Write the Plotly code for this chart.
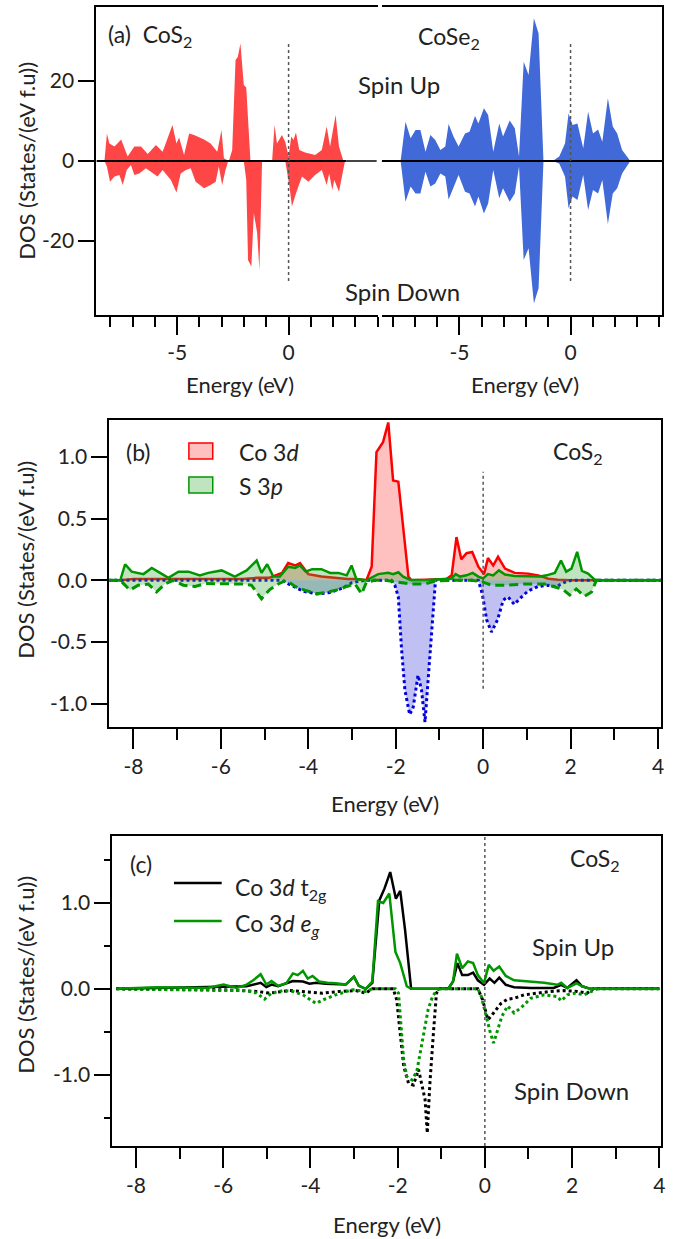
import plotly.graph_objects as go

# ---------------- Panel (a): total DOS ----------------
cos2_up_E = [-8.26, -8.15, -8.04, -7.81, -7.51, -7.22, -6.92, -6.62, -6.32, -5.95, -5.65, -5.21, -5.03, -4.91,
             -4.69, -4.46, -4.24, -4.02, -3.79, -3.50, -3.20, -3.01, -2.90, -2.68, -2.53, -2.38, -2.28, -2.16,
             -2.01, -1.90, -1.71, -0.74, -0.63, -0.52, -0.30, -0.15, 0.0, 0.12, 0.22, 0.33, 0.48, 0.74, 1.19,
             1.49, 1.71, 1.86, 2.11, 2.26, 2.46]
cos2_up = [0, 6.9, 4.4, 3.6, 5.4, 1.1, 3.6, 3.6, 1.75, 4.0, 2.3, 9.0, 4.4, 5.9, 1.5, 6.9, 6.5, 5.9, 5.4, 4.4,
           2.3, 7.75, 0.7, 0, 2.75, 25.25, 26, 29.4, 19, 18.4, 0, 0, 9, 4.4, 6.5, 4.8, 1.1, 6.1, 5.25, 7.1,
           2.75, 2.1, 1.5, 2.75, 8.6, 3.6, 11.5, 3.6, 0]
cos2_dn_E = [-8.26, -8.15, -8.01, -7.81, -7.59, -7.44, -7.26, -7.07, -6.92, -6.70, -6.40, -5.88, -5.65, -5.28,
             -5.03, -4.84, -4.61, -4.39, -4.17, -3.79, -3.50, -3.27, -3.13, -2.98, -2.83, -2.71, -2.01, -1.90,
             -1.82, -1.67, -1.56, -1.41, -1.31, -1.19, -0.15, 0.04, 0.15, 0.33, 0.60, 0.89, 1.19, 1.49, 1.71,
             1.82, 1.96, 2.05, 2.26, 2.41, 2.53]
cos2_dn = [0, -1.4, -5.2, -3.9, -3.5, -6, -2.25, -1, -3.5, -3.1, -1.8, -3.9, -2.25, -4.75, -7.9, -3.1, -2.25,
           -1.8, -5.2, -6.8, -6, -5.2, -1.4, -6, -2.25, 0, 0, -4.75, -24.75, -26.4, -13, -18, -27.25, 0, 0,
           -6.4, -11.4, -8.1, -3.9, -5.2, -3.5, -2.25, -6, -3.1, -7.25, -4.75, -7.7, -3.9, 0]

cose2_E = [-7.65, -7.43, -7.20, -6.98, -6.76, -6.53, -6.31, -6.09, -5.86, -5.64, -5.49, -5.27, -5.04, -4.75,
           -4.55, -4.30, -4.15, -3.90, -3.71, -3.48, -3.21, -3.04, -2.74, -2.51, -2.32, -2.11, -1.89, -1.65,
           -1.44, -1.22, -0.80, -0.51, -0.25, -0.09, 0.09, 0.31, 0.57, 0.79, 1.01, 1.24, 1.43, 1.68, 1.90,
           2.10, 2.32, 2.69]
cose2_up = [0, 9.8, 5.7, 7.75, 7.75, 2.3, 6.5, 5.25, 2.75, 3.6, 9.25, 6.1, 3.6, 6.9, 7.3, 11.25, 9.4, 13.2,
            11.5, 2.3, 9.4, 6.1, 10.1, 8.2, 1.1, 24.8, 21.5, 35.7, 31.9, 0, 0, 1.1, 4.4, 11.9, 9, 9.4, 3.2,
            12.3, 6.9, 7.9, 4.8, 15.7, 8.6, 6.9, 2.75, 0]
cose2_dn = [0, -10.2, -6.4, -8.1, -8.1, -2.7, -6.4, -5.6, -3.1, -3.9, -9.6, -6.4, -3.5, -7.7, -8.1, -11.4,
            -8.9, -13.1, -10.6, -2.25, -9.3, -6.8, -10.2, -8.1, -1.4, -24.75, -21.8, -35.6, -31.8, 0, 0, -0.6,
            -3.9, -11.8, -8.9, -9.75, -3.5, -12.25, -7.25, -8.1, -4.75, -15.75, -8.1, -6.8, -3.1, 0]

# ---------------- Panel (b): Co 3d / S 3p PDOS ----------------
co3d_up_E = [-8.57, -8.30, -8.0, -7.5, -7.0, -6.5, -6.0, -5.5, -5.18, -4.9, -4.6, -4.46, -4.30, -4.19, -4.0,
             -3.7, -3.4, -3.1, -2.9, -2.67, -2.55, -2.44, -2.29, -2.17, -2.06, -1.94, -1.71, -1.64, -0.84,
             -0.72, -0.61, -0.50, -0.38, -0.25, -0.11, 0.02, 0.11, 0.23, 0.34, 0.50, 0.72, 1.03, 1.26, 1.49,
             1.71, 2.0, 4.1]
co3d_up = [0, 0, 0.01, 0.01, 0.01, 0.01, 0.01, 0.01, 0.02, 0.02, 0.06, 0.14, 0.12, 0.14, 0.05, 0.03, 0.02,
           0.01, 0.01, 0, 0.11, 1.04, 1.12, 1.28, 0.81, 0.80, 0.03, 0, 0.01, 0.04, 0.35, 0.17, 0.22, 0.23,
           0.11, 0.05, 0.18, 0.12, 0.19, 0.095, 0.06, 0.054, 0.04, 0.013, 0.005, 0, 0]
co3d_dn_E = [-8.57, -4.6, -4.4, -4.1, -3.8, -3.5, -3.2, -3.0, -2.7, -2.10, -2.02, -1.94, -1.87, -1.79, -1.68,
             -1.60, -1.49, -1.41, -1.33, -1.26, -1.18, -1.09, -0.11, -0.02, 0.08, 0.19, 0.33, 0.46, 0.57,
             0.71, 0.88, 1.03, 1.26, 1.49, 1.68, 1.79, 1.90, 2.02, 4.1]
co3d_dn = [0, 0, -0.04, -0.09, -0.11, -0.10, -0.06, -0.02, 0, 0, -0.04, -0.135, -0.54, -0.89, -1.09, -1.03,
           -0.77, -0.89, -1.15, -0.81, -0.43, 0, 0, -0.11, -0.32, -0.42, -0.32, -0.16, -0.135, -0.195, -0.135,
           -0.086, -0.05, -0.04, -0.054, -0.027, -0.013, 0, 0]
s3p_up_E = [-8.57, -8.30, -8.19, -8.04, -7.77, -7.58, -7.39, -7.20, -6.97, -6.74, -6.48, -6.29, -5.98, -5.68,
            -5.41, -5.18, -5.07, -4.94, -4.80, -4.65, -4.46, -4.30, -4.19, -4.06, -3.91, -3.70, -3.50, -3.31,
            -3.12, -3.01, -2.90, -2.67, -2.40, -2.17, -2.06, -1.94, -1.83, -1.68, -1.33, -0.84, -0.72, -0.63,
            -0.53, -0.38, -0.24, -0.11, 0.0, 0.11, 0.23, 0.36, 0.50, 0.72, 1.03, 1.30, 1.45, 1.64, 1.78, 1.90,
            2.02, 2.15, 2.26, 2.40, 2.55, 2.70, 4.1]
s3p_up = [0, 0, 0.13, 0.07, 0.05, 0.10, 0.06, 0.02, 0.07, 0.07, 0.04, 0.06, 0.08, 0.03, 0.08, 0.16, 0.06,
          0.13, 0.03, 0.03, 0.11, 0.10, 0.12, 0.07, 0.09, 0.09, 0.06, 0.06, 0.04, 0.12, 0.01, 0.0, 0.05, 0.06,
          0.05, 0.065, 0.03, 0.005, 0, 0.01, 0.015, 0.05, 0.03, 0.04, 0.06, 0.03, 0.015, 0.05, 0.04, 0.08,
          0.046, 0.035, 0.03, 0.03, 0.04, 0.06, 0.16, 0.07, 0.095, 0.23, 0.076, 0.054, 0.005, 0, 0]
s3p_dn_E = [-8.57, -8.30, -8.08, -7.89, -7.66, -7.47, -7.28, -7.09, -6.86, -6.59, -6.36, -6.13, -5.83, -5.52,
            -5.30, -5.07, -4.88, -4.69, -4.50, -4.30, -4.08, -3.81, -3.54, -3.31, -3.12, -2.93, -2.78, -2.67,
            -2.48, -2.25, -1.94, -1.64, -1.33, -1.10, -0.72, -0.27, 0.0, 0.19, 0.50, 0.95, 1.41, 1.64, 1.83,
            1.98, 2.13, 2.32, 2.48, 2.59, 4.1]
s3p_dn = [0, 0, -0.08, -0.04, -0.03, -0.095, -0.03, 0, -0.04, -0.05, -0.027, -0.027, -0.03, -0.03, -0.04,
          -0.15, -0.075, -0.03, 0, -0.05, -0.08, -0.11, -0.095, -0.075, -0.05, -0.03, -0.11, -0.015, 0, 0.0,
          -0.015, -0.03, -0.03, -0.005, 0, 0, -0.015, -0.04, -0.04, -0.03, -0.03, -0.055, -0.075, -0.12, -0.07,
          -0.13, -0.095, 0, 0]

# ---------------- Panel (c): Co 3d t2g / eg ----------------
t2g_up_E = [-8.45, -6.0, -5.46, -5.14, -5.01, -4.89, -4.74, -4.40, -4.17, -4.02, -3.87, -3.65, -3.19, -3.00,
            -2.89, -2.73, -2.58, -2.42, -2.30, -2.17, -2.04, -1.94, -1.83, -1.69, -0.84, -0.73, -0.63, -0.52,
            -0.39, -0.27, -0.16, -0.02, 0.11, 0.22, 0.33, 0.48, 0.67, 1.05, 1.58, 1.75, 1.89, 2.10, 2.23, 2.42,
            4.0]
t2g_up = [0, 0.02, 0.03, 0.07, 0.02, 0.05, 0.03, 0.09, 0.085, 0.06, 0.07, 0.06, 0.05, 0.14, 0.035, 0, 0.07,
          1.03, 1.17, 1.36, 1.05, 1.14, 0.69, 0, 0, 0.085, 0.30, 0.16, 0.16, 0.19, 0.10, 0.047, 0.12, 0.07,
          0.13, 0.047, 0.02, 0.01, 0.01, 0.047, 0.01, 0.10, 0.03, 0, 0]
eg_up_E = [-8.45, -7.51, -6.37, -5.99, -5.69, -5.46, -5.31, -5.14, -5.01, -4.89, -4.74, -4.55, -4.40, -4.29,
           -4.17, -4.06, -3.95, -3.80, -3.61, -3.42, -3.19, -3.00, -2.89, -2.73, -2.58, -2.45, -2.33, -2.19,
           -2.05, -1.94, -1.79, -1.69, -0.84, -0.73, -0.64, -0.52, -0.39, -0.27, -0.16, -0.02, 0.09, 0.20,
           0.33, 0.48, 0.67, 1.05, 1.36, 1.66, 1.75, 1.89, 2.10, 2.23, 2.42, 4.0]
eg_up = [0, 0.02, 0.01, 0.05, 0.01, 0.05, 0.1, 0.17, 0.05, 0.09, 0.035, 0.065, 0.18, 0.16, 0.21, 0.12, 0.15,
         0.085, 0.07, 0.065, 0.05, 0.14, 0.035, 0, 0.085, 1.02, 1.0, 1.11, 0.43, 0.30, 0.03, 0, 0, 0.085, 0.41,
         0.24, 0.32, 0.30, 0.16, 0.066, 0.28, 0.21, 0.26, 0.15, 0.10, 0.085, 0.07, 0.047, 0.07, 0.01, 0.065,
         0.03, 0, 0]
t2g_dn_E = [-8.45, -5.99, -5.23, -4.93, -4.48, -4.02, -3.72, -3.34, -2.96, -2.73, -2.58, -2.10, -2.02, -1.94,
            -1.86, -1.75, -1.64, -1.52, -1.45, -1.37, -1.32, -1.26, -1.18, -1.11, -1.03, -0.16, -0.05, 0.07,
            0.14, 0.26, 0.37, 0.52, 0.67, 0.90, 1.20, 1.51, 1.81, 2.11, 2.34, 2.49, 4.0]
t2g_dn = [0, -0.01, -0.03, -0.05, -0.02, -0.04, -0.05, -0.03, -0.02, -0.05, 0, 0, -0.13, -0.52, -0.90, -1.10,
          -1.12, -0.94, -1.10, -1.29, -1.68, -1.10, -0.52, -0.05, 0, 0, -0.13, -0.36, -0.32, -0.24, -0.17,
          -0.12, -0.11, -0.07, -0.05, -0.03, -0.02, -0.03, -0.05, 0, 0]
eg_dn_E = [-8.45, -7.51, -5.99, -5.46, -5.23, -5.05, -4.89, -4.63, -4.40, -4.17, -3.87, -3.72, -3.42, -3.04,
           -2.73, -2.58, -2.05, -1.98, -1.92, -1.86, -1.79, -1.67, -1.56, -1.48, -1.41, -1.30, -1.20, -1.11,
           -1.03, -0.16, -0.08, 0.03, 0.13, 0.20, 0.30, 0.39, 0.52, 0.67, 0.83, 1.05, 1.36, 1.66, 1.75, 1.89,
           2.08, 2.27, 2.49, 2.57, 4.0]
eg_dn = [0, -0.01, -0.02, -0.02, -0.05, -0.12, -0.05, -0.02, -0.03, -0.07, -0.17, -0.13, -0.07, -0.01, -0.03,
         0, 0, -0.05, -0.44, -0.83, -1.02, -1.06, -0.96, -0.75, -0.52, -0.24, -0.09, -0.02, 0, 0, -0.09, -0.32,
         -0.52, -0.63, -0.48, -0.32, -0.20, -0.28, -0.22, -0.11, -0.07, -0.09, -0.14, -0.07, -0.05, -0.07,
         -0.02, 0, 0]

# ---------------- Tick labels ----------------
a_x_ticks = [-5, 0]
a_x_labels = ["-5", "0"]
a_y_ticks = [-20, 0, 20]
a_y_labels = ["-20", "0", "20"]
bc_x_ticks = [-8, -6, -4, -2, 0, 2, 4]
bc_x_labels = ["-8", "-6", "-4", "-2", "0", "2", "4"]
minor_x = [-8, -7, -6, -5, -4, -3, -2, -1, 0, 1, 2, 3, 4]
b_y_ticks = [-1.0, -0.5, 0.0, 0.5, 1.0]
b_y_labels = ["-1.0", "-0.5", "0.0", "0.5", "1.0"]
c_y_ticks = [-1.0, 0.0, 1.0]
c_y_labels = ["-1.0", "0.0", "1.0"]
c_y_minor = [-1.5, -0.5, 0.5, 1.5]

W, H = 680, 1239
FONT = "Lato"
TXT = "#222222"


def px(x):
    return x / W


def py(y):
    return 1 - y / H


fig = go.Figure()

# (a) fills
fig.add_trace(go.Scatter(x=cos2_up_E, y=cos2_up, mode="lines", fill="tozeroy", line=dict(width=0),
                         fillcolor="rgb(255,70,70)", xaxis="x", yaxis="y", name="CoS2 up"))
fig.add_trace(go.Scatter(x=cos2_dn_E, y=cos2_dn, mode="lines", fill="tozeroy", line=dict(width=0),
                         fillcolor="rgb(255,70,70)", xaxis="x", yaxis="y", name="CoS2 down"))
fig.add_trace(go.Scatter(x=cose2_E, y=cose2_up, mode="lines", fill="tozeroy", line=dict(width=0),
                         fillcolor="rgb(65,105,215)", xaxis="x2", yaxis="y2", name="CoSe2 up"))
fig.add_trace(go.Scatter(x=cose2_E, y=cose2_dn, mode="lines", fill="tozeroy", line=dict(width=0),
                         fillcolor="rgb(65,105,215)", xaxis="x2", yaxis="y2", name="CoSe2 down"))

# (b)
fig.add_trace(go.Scatter(x=co3d_up_E, y=co3d_up, mode="lines", fill="tozeroy",
                         line=dict(color="rgb(255,0,0)", width=2.5), fillcolor="rgba(255,60,60,0.32)",
                         xaxis="x3", yaxis="y3", name="Co 3d up"))
fig.add_trace(go.Scatter(x=co3d_dn_E, y=co3d_dn, mode="lines", fill="tozeroy",
                         line=dict(color="rgb(0,0,220)", width=3, dash="dot"), fillcolor="rgba(90,90,220,0.38)",
                         xaxis="x3", yaxis="y3", name="Co 3d down"))
fig.add_trace(go.Scatter(x=s3p_up_E, y=s3p_up, mode="lines", fill="tozeroy",
                         line=dict(color="rgb(0,150,0)", width=2.5), fillcolor="rgba(60,170,60,0.32)",
                         xaxis="x3", yaxis="y3", name="S 3p up"))
fig.add_trace(go.Scatter(x=s3p_dn_E, y=s3p_dn, mode="lines", fill="tozeroy",
                         line=dict(color="rgb(0,150,0)", width=3, dash="9px,5px"), fillcolor="rgba(60,170,60,0.32)",
                         xaxis="x3", yaxis="y3", name="S 3p down"))

# (c)
fig.add_trace(go.Scatter(x=t2g_dn_E, y=t2g_dn, mode="lines", line=dict(color="black", width=3, dash="dot"),
                         xaxis="x4", yaxis="y4", name="t2g down"))
fig.add_trace(go.Scatter(x=eg_dn_E, y=eg_dn, mode="lines", line=dict(color="rgb(0,150,0)", width=3, dash="dot"),
                         xaxis="x4", yaxis="y4", name="eg down"))
fig.add_trace(go.Scatter(x=t2g_up_E, y=t2g_up, mode="lines", line=dict(color="black", width=2.5),
                         xaxis="x4", yaxis="y4", name="t2g up"))
fig.add_trace(go.Scatter(x=eg_up_E, y=eg_up, mode="lines", line=dict(color="rgb(0,150,0)", width=2.5),
                         xaxis="x4", yaxis="y4", name="eg up"))

tickfont = dict(family=FONT, size=21, color=TXT)


def xax(domain, rng, anchor, tv, tt, major_len, minor_len):
    return dict(domain=domain, range=rng, anchor=anchor, tickmode="array", tickvals=tv, ticktext=tt,
                ticks="outside", ticklen=major_len, tickwidth=2, tickcolor="black",
                minor=dict(tickmode="array", tickvals=minor_x, ticks="outside", ticklen=minor_len,
                           tickwidth=2, tickcolor="black", showgrid=False),
                showline=True, linewidth=2, linecolor="black", mirror=True, showgrid=False, zeroline=False,
                tickfont=tickfont, fixedrange=True)


fig.update_layout(
    width=W, height=H, margin=dict(l=0, r=0, t=0, b=0),
    paper_bgcolor="white", plot_bgcolor="white", showlegend=False,
    xaxis=xax([px(97), px(380)], [-8.62, 4.0], "y", a_x_ticks, a_x_labels, 18, 10),
    xaxis2=xax([px(384), px(666)], [-8.5, 4.12], "y2", a_x_ticks, a_x_labels, 18, 10),
    xaxis3=xax([px(110), px(665)], [-8.55, 4.07], "y3", bc_x_ticks, bc_x_labels, 20, 11),
    xaxis4=xax([px(113), px(665)], [-8.54, 4.04], "y4", bc_x_ticks, bc_x_labels, 20, 11),
    yaxis=dict(domain=[py(315), py(7)], range=[-38.5, 38.5], anchor="x", tickmode="array",
               tickvals=a_y_ticks, ticktext=a_y_labels, ticks="outside", ticklen=16, tickwidth=2,
               tickcolor="black", showline=True, linewidth=2, linecolor="black", mirror=False,
               showgrid=False, zeroline=False, tickfont=tickfont, fixedrange=True),
    yaxis2=dict(domain=[py(315), py(7)], range=[-38.5, 38.5], anchor="x2", side="right",
                showticklabels=False, ticks="", showline=True, linewidth=2, linecolor="black",
                showgrid=False, zeroline=False, fixedrange=True),
    yaxis3=dict(domain=[py(727), py(420)], range=[-1.19, 1.30], anchor="x3", tickmode="array",
                tickvals=b_y_ticks, ticktext=b_y_labels, ticks="outside", ticklen=16, tickwidth=2,
                tickcolor="black", showline=True, linewidth=2, linecolor="black", mirror=True,
                showgrid=False, zeroline=False, tickfont=tickfont, fixedrange=True),
    yaxis4=dict(domain=[py(1146), py(836)], range=[-1.83, 1.78], anchor="x4", tickmode="array",
                tickvals=c_y_ticks, ticktext=c_y_labels, ticks="outside", ticklen=16, tickwidth=2,
                tickcolor="black",
                minor=dict(tickmode="array", tickvals=c_y_minor, ticks="outside", ticklen=6, tickwidth=2,
                           tickcolor="black", showgrid=False),
                showline=True, linewidth=2, linecolor="black", mirror=True,
                showgrid=False, zeroline=False, tickfont=tickfont, fixedrange=True),
)

# reference lines
shapes = [
    dict(type="line", xref="x", yref="y", x0=-8.62, x1=2.6, y0=0, y1=0, line=dict(color="black", width=2),
         layer="above"),
    dict(type="line", xref="x", yref="y", x0=2.6, x1=3.95, y0=0, y1=0, line=dict(color="#444444", width=2),
         layer="above"),
    dict(type="line", xref="x2", yref="y2", x0=-8.5, x1=4.12, y0=0, y1=0, line=dict(color="black", width=2),
         layer="above"),
    dict(type="line", xref="x", yref="y", x0=0, x1=0, y0=-30, y1=30,
         line=dict(color="#555555", width=1.5, dash="dot"), layer="above"),
    dict(type="line", xref="x2", yref="y2", x0=0, x1=0, y0=-30, y1=30,
         line=dict(color="#555555", width=1.5, dash="dot"), layer="above"),
    dict(type="line", xref="x3", yref="y3", x0=0, x1=0, y0=-0.88, y1=0.88,
         line=dict(color="#555555", width=1.5, dash="dot"), layer="above"),
    dict(type="line", xref="x4", yref="y4", x0=0, x1=0, y0=-1.83, y1=1.78,
         line=dict(color="#555555", width=1.5, dash="dot"), layer="above"),
    # legend (b)
    dict(type="rect", xref="paper", yref="paper", x0=px(190), x1=px(214), y0=py(459), y1=py(443),
         fillcolor="rgba(255,60,60,0.32)", line=dict(color="rgb(255,0,0)", width=1.5)),
    dict(type="rect", xref="paper", yref="paper", x0=px(190), x1=px(214), y0=py(493), y1=py(477),
         fillcolor="rgba(60,170,60,0.32)", line=dict(color="rgb(0,150,0)", width=1.5)),
    # legend (c)
    dict(type="line", xref="paper", yref="paper", x0=px(175), x1=px(223), y0=py(883), y1=py(883),
         line=dict(color="black", width=2.5)),
    dict(type="line", xref="paper", yref="paper", x0=px(175), x1=px(223), y0=py(921), y1=py(921),
         line=dict(color="rgb(0,150,0)", width=2.5)),
]
fig.update_layout(shapes=shapes)


def note(text, x, y, size=22, xanchor="left", angle=0):
    fig.add_annotation(text=text, x=px(x), y=py(y), xref="paper", yref="paper", showarrow=False,
                       xanchor=xanchor, yanchor="middle", textangle=angle,
                       font=dict(family=FONT, size=size, color=TXT))


ytitle = "DOS (States/(eV f.u))"
note(ytitle, 26, 161, size=22, xanchor="center", angle=-90)
note(ytitle, 25, 560, size=22, xanchor="center", angle=-90)
note(ytitle, 25, 975, size=22, xanchor="center", angle=-90)
note("Energy (eV)", 241, 384, size=22, xanchor="center")
note("Energy (eV)", 528, 384, size=22, xanchor="center")
note("Energy (eV)", 387, 803, size=22, xanchor="center")
note("Energy (eV)", 389, 1224, size=22, xanchor="center")

note("(a)  CoS<sub>2</sub>", 107, 36, size=23)
note("CoSe<sub>2</sub>", 418, 38, size=23)
note("Spin Up", 358, 84, size=24)
note("Spin Down", 345, 291, size=24)

note("(b)", 125, 452, size=23)
note("Co 3<i>d</i>", 238, 452, size=23)
note("S 3<i>p</i>", 238, 486, size=23)
note("CoS<sub>2</sub>", 554, 452, size=23)

note("(c)", 129, 864, size=23)
note("Co 3<i>d</i> t<sub>2g</sub>", 234, 888, size=23)
note("Co 3<i>d</i> <i>e<sub>g</sub></i>", 234, 924, size=23)
note("CoS<sub>2</sub>", 571, 859, size=23)
note("Spin Up", 533, 946, size=24)
note("Spin Down", 515, 1090, size=24)

fig.write_html("out.html", config={"displayModeBar": False, "staticPlot": True})

# remove the browser's default page margin so the figure sits at the window origin
with open("out.html", "r", encoding="utf-8") as f:
    html = f.read()
html = html.replace("<head>", "<head><style>html,body{margin:0;padding:0;overflow:hidden;}</style>", 1)
with open("out.html", "w", encoding="utf-8") as f:
    f.write(html)
